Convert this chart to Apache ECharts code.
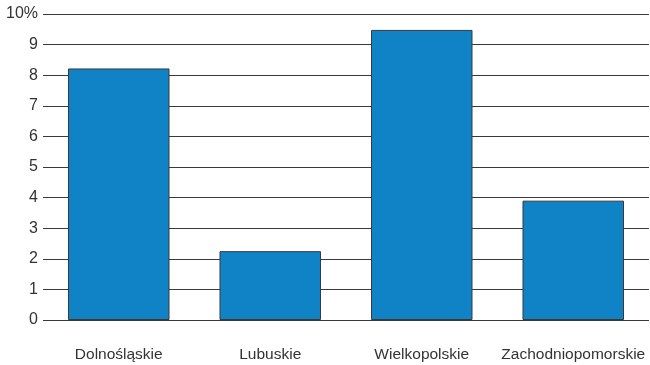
<!DOCTYPE html>
<html>
<head>
<meta charset="utf-8">
<script src="https://cdn.jsdelivr.net/npm/echarts@6/dist/echarts.min.js"></script>
<style>
  html, body { margin: 0; padding: 0; background: #fff; }
  #chart { width: 650px; height: 365px; }
</style>
</head>
<body>
<div id="chart"></div>
<script>
// województwa i wartości (%)
const regions = ['Dolnośląskie', 'Lubuskie', 'Wielkopolskie', 'Zachodniopomorskie']
const values = [8.22, 2.25, 9.48, 3.9]
const yTicks = [0, 1, 2, 3, 4, 5, 6, 7, 8, 9, 10]

const chart = echarts.init(document.getElementById('chart'))
chart.setOption({
  animation: false,
  grid: { left: 43, right: 1, top: 14, bottom: 45 },
  xAxis: {
    type: 'category',
    data: regions,
    axisLine: { show: false },
    axisTick: { show: false },
    axisLabel: {
      interval: 0,
      color: '#333',
      fontSize: 15.5,
      fontFamily: 'Liberation Sans, Arial, sans-serif',
      margin: 27
    }
  },
  yAxis: {
    type: 'value',
    min: yTicks[0],
    max: yTicks[yTicks.length - 1],
    interval: 1,
    axisLine: { show: false },
    axisTick: { show: false },
    splitLine: { lineStyle: { color: '#3a3a3a', width: 1 } },
    axisLabel: {
      color: '#333',
      fontSize: 16,
      fontFamily: 'Liberation Sans, Arial, sans-serif',
      margin: 5,
      formatter: v => (v === 10 ? '10%' : String(v))
    }
  },
  series: [
    {
      type: 'bar',
      data: values,
      barWidth: '67%',
      itemStyle: {
        color: '#0f83c6',
        borderColor: '#3a3a3a',
        borderWidth: 1
      }
    }
  ]
})
</script>
</body>
</html>
